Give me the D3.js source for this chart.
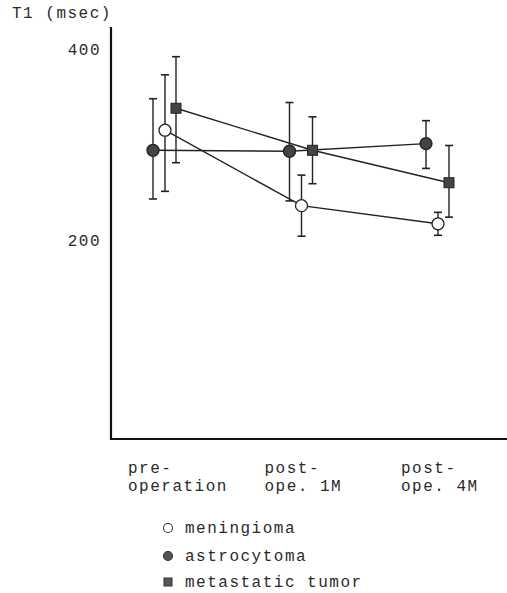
<!DOCTYPE html>
<html>
<head>
<meta charset="utf-8">
<script src="https://cdn.jsdelivr.net/npm/d3@7"></script>
<style>
  body { margin: 0; background: #fff; }
  text { font-family: "Liberation Mono", "DejaVu Sans Mono", monospace; font-size: 16px; letter-spacing: 1.5px; fill: #2a2a2a; }
</style>
</head>
<body>
<svg id="chart" width="507" height="593"></svg>
<script>
// time points
const periods = ['pre-operation', 'post-ope. 1M', 'post-ope. 4M']
const periodLabels = [['pre-', 'operation'], ['post-', 'ope. 1M'], ['post-', 'ope. 4M']]
const yTicks = [200, 400]

// T1 (msec): mean, lower and upper end of error bar
const meningiomaMean = [316, 237, 218]
const meningiomaLow = [252, 205, 206]
const meningiomaHigh = [374, 269, 230]

const astrocytomaMean = [295, 294, 302]
const astrocytomaLow = [244, 242, 276]
const astrocytomaHigh = [349, 345, 326]

const metastaticMean = [339, 295, 261]
const metastaticLow = [282, 260, 225]
const metastaticHigh = [393, 330, 300]

const series = [
  { name: 'meningioma', shape: 'circle', fill: '#fff', offset: 0, mean: meningiomaMean, low: meningiomaLow, high: meningiomaHigh },
  { name: 'astrocytoma', shape: 'circle', fill: '#444', offset: -12, mean: astrocytomaMean, low: astrocytomaLow, high: astrocytomaHigh },
  { name: 'metastatic tumor', shape: 'square', fill: '#444', offset: 11, mean: metastaticMean, low: metastaticLow, high: metastaticHigh }
]
// draw order: lines beneath markers of other series as in the figure
const drawOrder = [1, 0, 2]

const svg = d3.select('#chart')

const x = d3.scalePoint()
  .domain(periods)
  .range([165, 438])

const y = d3.scaleLinear()
  .domain([0, 400])
  .range([432, 50])

const axisLeft = 111
const axisBottom = 439

// axes frame
svg.append('line')
  .attr('x1', axisLeft).attr('x2', axisLeft)
  .attr('y1', 27).attr('y2', axisBottom)
  .style('stroke', '#111').style('stroke-width', 2.2)
svg.append('line')
  .attr('x1', axisLeft - 1).attr('x2', 507)
  .attr('y1', axisBottom).attr('y2', axisBottom)
  .style('stroke', '#111').style('stroke-width', 2.2)

// y tick labels
svg.selectAll('text.ytick')
  .data(yTicks)
  .enter().append('text')
  .attr('class', 'ytick')
  .attr('x', 101)
  .attr('y', d => y(d) + 5)
  .attr('text-anchor', 'end')
  .text(d => d)

svg.append('text')
  .attr('x', 12)
  .attr('y', 18)
  .text('T1 (msec)')

// x labels
periods.forEach((p, i) => {
  let t = svg.append('text')
    .attr('x', x(p) - 37)
    .attr('y', 473)
  t.append('tspan').attr('x', x(p) - 37).text(periodLabels[i][0])
  t.append('tspan').attr('x', x(p) - 37).attr('dy', 18).text(periodLabels[i][1])
})

const line = d3.line()

drawOrder.forEach(k => {
  const s = series[k]
  const g = svg.append('g').attr('class', 'series')
  const pts = periods.map((p, i) => [x(p) + s.offset, y(s.mean[i])])

  g.append('path')
    .attr('d', line(pts))
    .style('fill', 'none')
    .style('stroke', '#222')
    .style('stroke-width', 1.4)

  periods.forEach((p, i) => {
    const cx = x(p) + s.offset
    g.append('line')
      .attr('x1', cx).attr('x2', cx)
      .attr('y1', y(s.low[i])).attr('y2', y(s.high[i]))
      .style('stroke', '#222').style('stroke-width', 1.4)
    ;[s.low[i], s.high[i]].forEach(v => {
      g.append('line')
        .attr('x1', cx - 4).attr('x2', cx + 4)
        .attr('y1', y(v)).attr('y2', y(v))
        .style('stroke', '#222').style('stroke-width', 1.6)
    })
  })
})

drawOrder.forEach(k => {
  const s = series[k]
  periods.forEach((p, i) => {
    const cx = x(p) + s.offset
    const cy = y(s.mean[i])
    if (s.shape === 'circle') {
      svg.append('circle')
        .attr('cx', cx).attr('cy', cy).attr('r', 6)
        .style('fill', s.fill).style('stroke', '#222').style('stroke-width', 1.3)
    } else {
      svg.append('rect')
        .attr('x', cx - 5).attr('y', cy - 5)
        .attr('width', 10).attr('height', 10)
        .style('fill', s.fill).style('stroke', '#222').style('stroke-width', 1)
    }
  })
})

// legend
const legendY = [528, 556, 582]
series.forEach((s, i) => {
  const ly = legendY[i]
  if (s.shape === 'circle') {
    svg.append('circle')
      .attr('cx', 168).attr('cy', ly).attr('r', 4.5)
      .style('fill', s.fill === '#fff' ? '#fff' : '#555')
      .style('stroke', '#333').style('stroke-width', 1.1)
  } else {
    svg.append('rect')
      .attr('x', 164).attr('y', ly - 4)
      .attr('width', 8).attr('height', 8)
      .style('fill', '#555').style('stroke', '#333').style('stroke-width', 1)
  }
  svg.append('text')
    .attr('x', 185)
    .attr('y', ly + 5)
    .text(s.name)
})
</script>
</body>
</html>
